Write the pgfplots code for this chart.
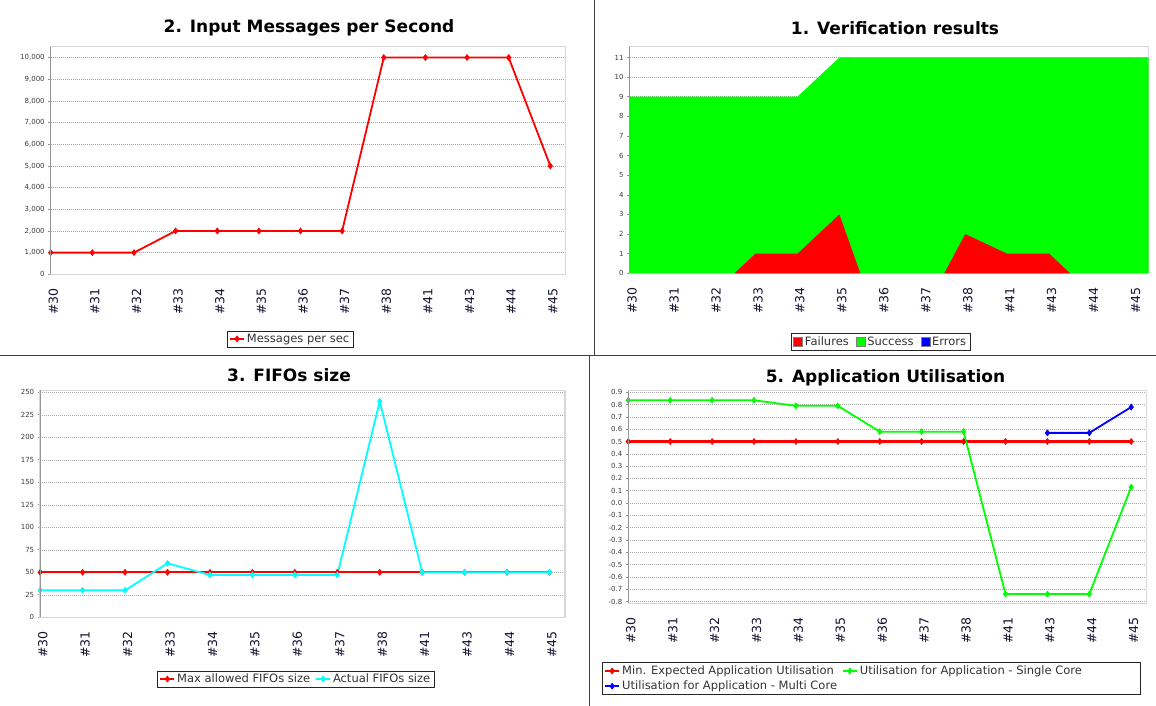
\documentclass[border=0pt]{standalone}
\usepackage{fontspec}
\setmainfont{DejaVu Sans}
\usepackage{pgfplots}
\pgfplotsset{compat=1.18}
\definecolor{pureRed}{RGB}{255,0,0}
\definecolor{pureGreen}{RGB}{0,255,0}
\definecolor{pureBlue}{RGB}{0,0,255}
\definecolor{pureCyan}{RGB}{0,255,255}
\definecolor{frameGray}{RGB}{215,215,215}
\definecolor{axisGray}{RGB}{150,150,150}
\definecolor{gridGray}{RGB}{165,165,165}
\definecolor{tickText}{RGB}{60,60,60}
\definecolor{catText}{RGB}{20,20,50}
\pgfplotsset{
  jfc/.style={
    scale only axis,
    anchor=south west,
    xmin=0, xmax=12.37,
    xtick={0,...,12},
    xticklabels={\#30,\#31,\#32,\#33,\#34,\#35,\#36,\#37,\#38,\#41,\#43,\#44,\#45},
    xticklabel style={yshift=-8pt, xshift=2.5pt, rotate=90, anchor=east, font=\fontsize{12.5}{13}\selectfont, text=catText},
    x tick style={draw=none},
    ytick pos=left,
    tick align=outside,
    major tick length=2.5pt,
    y tick style={axisGray, line width=0.6pt},
    yticklabel style={font=\fontsize{7}{8}\selectfont, text=tickText},
    /pgf/number format/assume math mode=true,
    scaled y ticks=false,
    ymajorgrids,
    grid style={gridGray, line width=0.5pt, dash pattern=on 1pt off 1pt},
    axis line style={frameGray, line width=1.5pt},
    extra description/.code={\draw[axisGray, line width=0.7pt] (0,0) -- (0,1);},
    legend style={draw=black!85, line width=0.7pt, font=\fontsize{11.5}{13}\selectfont, text=black!80, anchor=center, inner xsep=2pt, inner ysep=1pt, /tikz/every even column/.append style={column sep=3pt}},
    legend cell align=left,
    legend image code/.code={\draw[mark repeat=2, mark phase=2] plot coordinates {(0pt,0pt)(7pt,0pt)(14pt,0pt)};},
  },
  ser/.style={color=#1, line width=1.8pt, mark=diamond*, mark size=3pt, mark options={solid, fill=#1, line width=0.6pt}},
}
\begin{document}
\begin{tikzpicture}
\useasboundingbox (0,0) rectangle (1156pt,706pt);
\fill[white] (0,0) rectangle (1156pt,706pt);

% ---------- 2. Input Messages per Second ----------
\begin{axis}[jfc, at={(50.7pt,431.7pt)}, width=515pt, height=227.6pt,
  ymin=0, ymax=10500, ytick={0,1000,...,10000},
  yticklabel style={/pgf/number format/.cd, 1000 sep={,}},
  legend style={at={(0.465,-0.284)}}]
\addplot[ser=pureRed] coordinates {(0,1000)(1,1000)(2,1000)(3,2000)(4,2000)(5,2000)(6,2000)(7,2000)(8,10000)(9,10000)(10,10000)(11,10000)(12,5000)};
\addlegendentry{Messages per sec}
\end{axis}

% ---------- 1. Verification results ----------
\begin{axis}[jfc, at={(629.6pt,432.7pt)}, width=519pt, height=226.6pt,
  ymin=0, ymax=11.55, ytick={0,...,11},
  legend columns=3, legend style={at={(0.484,-0.303)}, /tikz/every even column/.append style={column sep=5pt}}]
% stacked total (failures + success)
\addplot[fill=pureGreen, draw=none, forget plot] coordinates {(0,0)(0,9)(1,9)(2,9)(3,9)(4,9)(5,11)(6,11)(7,11)(8,11)(9,11)(10,11)(11,11)(12,11)(12.37,11)(12.37,0)} \closedcycle;
% failures
\addplot[fill=pureRed, draw=none, forget plot] coordinates {(2.5,0)(3,1)(4,1)(5,3)(5.5,0)} \closedcycle;
\addplot[fill=pureRed, draw=none, forget plot] coordinates {(7.5,0)(8,2)(9,1)(10,1)(10.5,0)} \closedcycle;
\addlegendimage{legend image code/.code={\draw[fill=pureRed, draw=gray, line width=0.5pt] (0pt,-4.5pt) rectangle (9pt,4.5pt);}}
\addlegendentry{Failures}
\addlegendimage{legend image code/.code={\draw[fill=pureGreen, draw=gray, line width=0.5pt] (0pt,-4.5pt) rectangle (9pt,4.5pt);}}
\addlegendentry{Success}
\addlegendimage{legend image code/.code={\draw[fill=pureBlue, draw=gray, line width=0.5pt] (0pt,-4.5pt) rectangle (9pt,4.5pt);}}
\addlegendentry{Errors}
\end{axis}

% ---------- 3. FIFOs size ----------
\begin{axis}[jfc, at={(40.2pt,88.7pt)}, width=525pt, height=226.8pt,
  ymin=0, ymax=252, ytick={0,25,...,250},
  legend columns=2, legend style={at={(0.487,-0.272)}}]
\addplot[ser=pureRed] coordinates {(0,50)(1,50)(2,50)(3,50)(4,50)(5,50)(6,50)(7,50)(8,50)(9,50)(10,50)(11,50)(12,50)};
\addlegendentry{Max allowed FIFOs size}
\addplot[ser=pureCyan] coordinates {(0,30)(1,30)(2,30)(3,60)(4,47)(5,47)(6,47)(7,47)(8,240)(9,50)(10,50)(11,50)(12,50)};
\addlegendentry{Actual FIFOs size}
\end{axis}

% ---------- 5. Application Utilisation ----------
\begin{axis}[jfc, at={(628.3pt,102.7pt)}, width=518.4pt, height=212.6pt,
  ymin=-0.815, ymax=0.913,
  ytick={-0.8,-0.7,-0.6,-0.5,-0.4,-0.3,-0.2,-0.1,0,0.1,0.2,0.3,0.4,0.5,0.6,0.7,0.8,0.9},
  yticklabel style={/pgf/number format/.cd, fixed, fixed zerofill, precision=1},
  legend columns=2, legend style={at={(0.469,-0.354)}, row sep=1pt}]
\addplot[ser=pureRed, line width=2.2pt] coordinates {(0,0.5)(1,0.5)(2,0.5)(3,0.5)(4,0.5)(5,0.5)(6,0.5)(7,0.5)(8,0.5)(9,0.5)(10,0.5)(11,0.5)(12,0.5)};
\addlegendentry{Min. Expected Application Utilisation}
\addplot[ser=pureGreen] coordinates {(0,0.835)(1,0.835)(2,0.835)(3,0.835)(4,0.79)(5,0.79)(6,0.58)(7,0.58)(8,0.58)(9,-0.74)(10,-0.74)(11,-0.74)(12,0.13)};
\addlegendentry{\makebox[277pt][l]{Utilisation for Application - Single Core}}
\addplot[ser=pureBlue] coordinates {(10,0.57)(11,0.57)(12,0.78)};
\addlegendentry{Utilisation for Application - Multi Core}
\end{axis}

% titles
\node[font=\fontsize{17}{20}\selectfont\bfseries] at (309pt,678pt) {2. Input Messages per Second};
\node[font=\fontsize{17}{20}\selectfont\bfseries] at (895pt,678pt) {1. Verification results};
\node[font=\fontsize{17}{20}\selectfont\bfseries] at (289pt,331pt) {3. FIFOs size};
\node[font=\fontsize{17}{20}\selectfont\bfseries] at (885.5pt,328pt) {5. Application Utilisation};

% panel dividers
\draw[black!75, line width=1pt] (0pt,350pt) -- (1156pt,350pt);
\draw[black!75, line width=1pt] (594.5pt,706pt) -- (594.5pt,350pt);
\draw[black!75, line width=1pt] (589pt,350pt) -- (589pt,0pt);
\end{tikzpicture}
\end{document}
